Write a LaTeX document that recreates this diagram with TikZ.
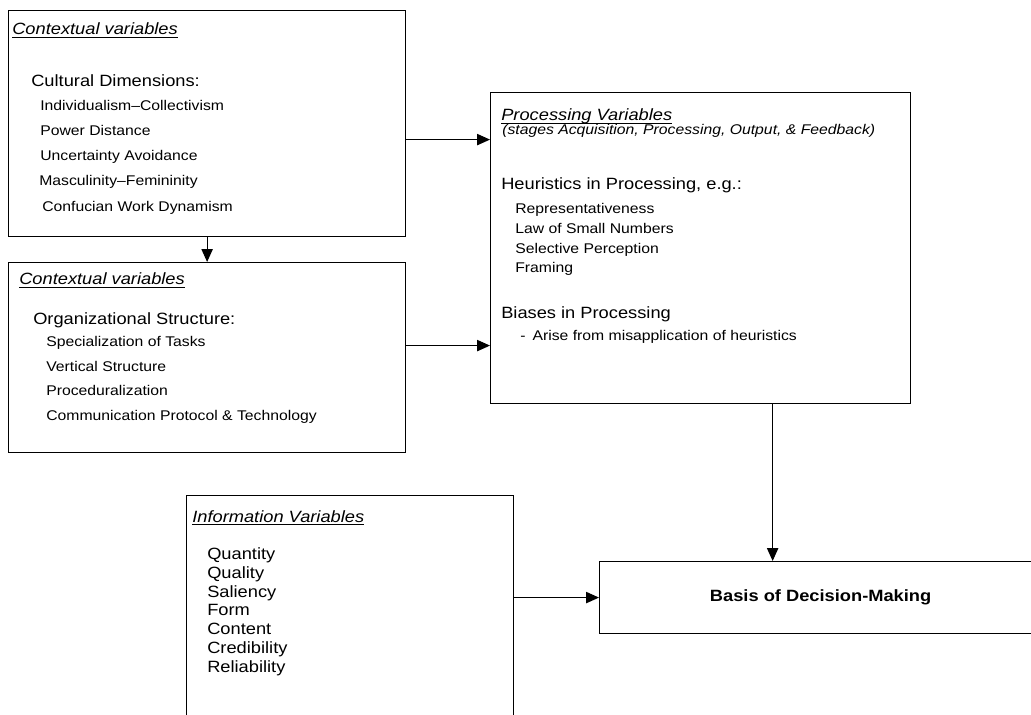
\documentclass[tikz,border=0pt]{standalone}
\usepackage{fontspec}
\setmainfont{Liberation Sans}[FakeStretch=1.12]
\usepackage{tikz}
\usetikzlibrary{positioning, arrows.meta}

\newcommand{\ulhead}[1]{\underline{\smash{#1}}}

\begin{document}
\begin{tikzpicture}[
    x=0.025cm, y=-0.025cm,
    box/.style={rectangle, draw, line width=0.8pt, anchor=north west, inner sep=0pt},
    head/.style={anchor=base west, inner sep=0pt, font=\fontsize{11.6}{14}\selectfont\itshape},
    main/.style={anchor=base west, inner sep=0pt, font=\fontsize{11.6}{14}\selectfont},
    item/.style={anchor=base west, inner sep=0pt, font=\fontsize{10}{12}\selectfont},
    arrow/.style={-{Triangle[length=3.2mm, width=2.8mm]}, line width=0.8pt},
]
\useasboundingbox (0,0) rectangle (1031,715);

% --- Cultural dimensions ---
\node[box, minimum width=9.925cm, minimum height=5.65cm] (cult) at (8,10) {};
\node[head] (cult0) at (12,35) {\ulhead{Contextual variables}};
\node[main] (cult1) at (31,87) {Cultural Dimensions:};
\node[item] (cult2) at (40,111) {Individualism--Collectivism};
\node[item] (cult3) at (40,136) {Power Distance};
\node[item] (cult4) at (40,161) {Uncertainty Avoidance};
\node[item] (cult5) at (39,186) {Masculinity--Femininity};
\node[item] (cult6) at (42,212) {Confucian Work Dynamism};

% --- Organizational structure ---
\node[box, minimum width=9.925cm, minimum height=4.75cm] (org) at (8,262) {};
\node[head] (org0) at (19,285) {\ulhead{Contextual variables}};
\node[main] (org1) at (33,324) {Organizational Structure:};
\node[item] (org2) at (46,346) {Specialization of Tasks};
\node[item] (org3) at (46,371) {Vertical Structure};
\node[item] (org4) at (46,395) {Proceduralization};
\node[item] (org5) at (46,420) {Communication Protocol \& Technology};

% --- Processing variables ---
\node[box, minimum width=10.5cm, minimum height=7.775cm] (proc) at (490,92) {};
\node[head] (proc0) at (501,121) {\ulhead{Processing Variables}};
\node[item, font=\fontsize{10}{12}\selectfont\itshape] (proc1) at (502,135) {(stages Acquisition, Processing, Output, \& Feedback)};
\node[main] (proc2) at (501,190) {Heuristics in Processing, e.g.:};
\node[item] (proc3) at (515,214) {Representativeness};
\node[item] (proc4) at (515,234) {Law of Small Numbers};
\node[item] (proc5) at (515,254) {Selective Perception};
\node[item] (proc6) at (515,273) {Framing};
\node[main] (proc7) at (501,318) {Biases in Processing};
\node[item] (proc8) at (520,340) {-\hspace{0.5em}Arise from misapplication of heuristics};

% --- Information variables ---
\node[box, minimum width=8.175cm, minimum height=6cm] (info) at (186,495) {};
\node[head] (info0) at (192,522) {\ulhead{Information Variables}};
\node[main] (info1) at (207,559) {Quantity};
\node[main] (info2) at (207,578) {Quality};
\node[main] (info3) at (207,597) {Saliency};
\node[main] (info4) at (207,615) {Form};
\node[main] (info5) at (207,634) {Content};
\node[main] (info6) at (207,653) {Credibility};
\node[main] (info7) at (207,672) {Reliability};

% --- Basis of decision-making ---
\node[box, minimum width=11.05cm, minimum height=1.8cm, font=\fontsize{11.6}{14}\selectfont\bfseries] (basis) at (599,561) {Basis of Decision-Making};

% --- connectors ---
\draw[arrow] (cult.south) -- (org.north);
\draw[arrow] ([yshift=-0.4cm]cult.east) -- ([yshift=-0.4cm]cult.east -| proc.west);
\draw[arrow] ([yshift=0.3cm]org.east) -- ([yshift=0.3cm]org.east -| proc.west);
\draw[arrow] ([xshift=1.8cm]proc.south) -- ([xshift=1.8cm]proc.south |- basis.north);
\draw[arrow] (info.east |- basis.west) -- (basis.west);

\end{tikzpicture}
\end{document}
